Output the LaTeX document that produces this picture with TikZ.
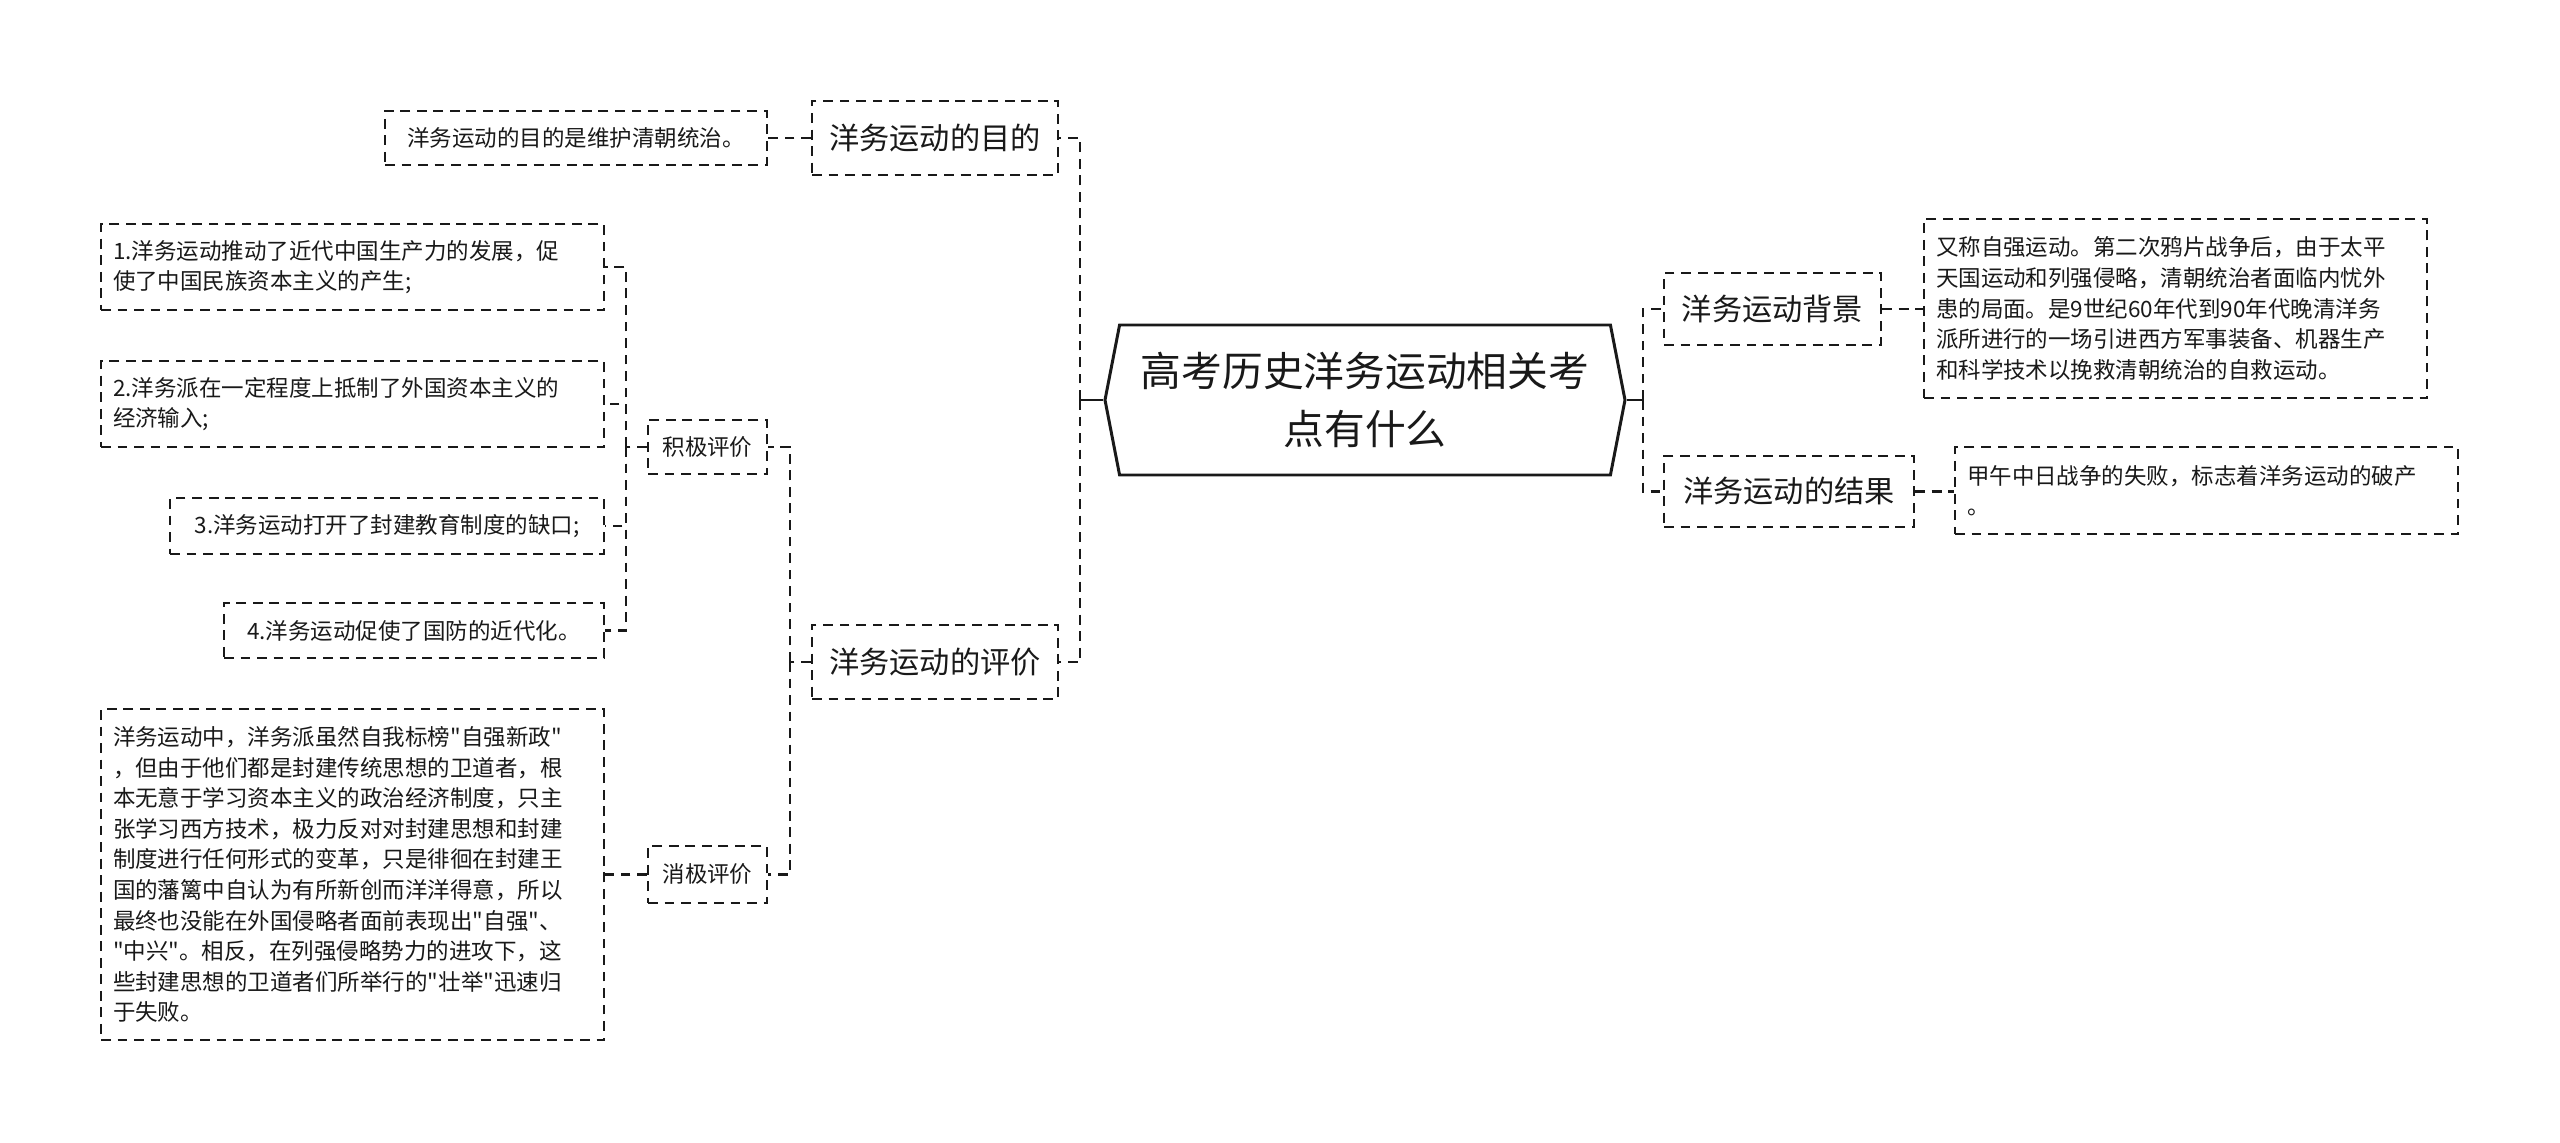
\documentclass[tikz,border=0pt]{standalone}
\usepackage{fontspec}
\newfontfamily\cjk{Noto Sans CJK SC}
\definecolor{mapline}{RGB}{25,25,25}
\definecolor{maptext}{RGB}{25,25,25}
\usetikzlibrary{shapes.symbols}

\begin{document}
\begin{tikzpicture}[
    box/.style={draw=mapline, line width=0.65pt, dash pattern=on 2.8pt off 1.9pt, text=maptext, inner sep=0pt},
    leaf/.style={box, font=\cjk\fontsize{6.4}{8.7}\selectfont},
    topic/.style={box, font=\cjk\fontsize{8.6}{11}\selectfont, minimum height=0.74cm},
    note/.style={leaf, align=left, text width=4.79cm, inner xsep=0.12cm},
    link/.style={draw=mapline, line width=0.65pt, dash pattern=on 2.8pt off 1.9pt},
    rootlink/.style={draw=mapline, line width=0.85pt}
]
    \useasboundingbox (0,0) rectangle (25.6,-11.43);

    % centre
    \node[signal, signal to=east and west, signal pointer angle=158, draw=mapline, line width=0.85pt,
          text=maptext, font=\cjk\fontsize{11.6}{16.3}\selectfont, align=center,
          minimum width=5.2cm, minimum height=1.5cm, inner sep=0pt] (root) at (13.65,-4.00)
          {高考历史洋务运动相关考\\点有什么};

    % left side
    \node[topic, minimum width=2.46cm] (purpose) at (9.35,-1.38) {洋务运动的目的};
    \node[leaf, minimum width=3.82cm, minimum height=0.54cm] (purposetxt) at (5.76,-1.38) {洋务运动的目的是维护清朝统治。};
    \node[topic, minimum width=2.46cm] (eval) at (9.35,-6.62) {洋务运动的评价};
    \node[leaf, minimum width=1.19cm, minimum height=0.54cm] (pos) at (7.075,-4.47) {积极评价};
    \node[leaf, minimum width=1.19cm, minimum height=0.57cm] (neg) at (7.075,-8.745) {消极评价};

    \node[note, minimum height=0.86cm] (pos1) at (3.525,-2.67) {1.洋务运动推动了近代中国生产力的发展，促\\使了中国民族资本主义的产生;};
    \node[note, minimum height=0.86cm] (pos2) at (3.525,-4.04) {2.洋务派在一定程度上抵制了外国资本主义的\\经济输入;};
    \node[leaf, minimum width=4.34cm, minimum height=0.56cm] (pos3) at (3.87,-5.26) {3.洋务运动打开了封建教育制度的缺口;};
    \node[leaf, minimum width=3.80cm, minimum height=0.55cm] (pos4) at (4.14,-6.305) {4.洋务运动促使了国防的近代化。};
    \node[note, minimum height=3.31cm] (negtxt) at (3.525,-8.745) {洋务运动中，洋务派虽然自我标榜"自强新政"\\，但由于他们都是封建传统思想的卫道者，根\\本无意于学习资本主义的政治经济制度，只主\\张学习西方技术，极力反对对封建思想和封建\\制度进行任何形式的变革，只是徘徊在封建王\\国的藩篱中自认为有所新创而洋洋得意，所以\\最终也没能在外国侵略者面前表现出"自强"、\\"中兴"。相反，在列强侵略势力的进攻下，这\\些封建思想的卫道者们所举行的"壮举"迅速归\\于失败。};

    % right side
    \node[topic, minimum width=2.17cm, minimum height=0.72cm] (backgr) at (17.725,-3.09) {洋务运动背景};
    \node[topic, minimum width=2.50cm, minimum height=0.71cm] (result) at (17.89,-4.915) {洋务运动的结果};
    \node[note, minimum height=1.79cm] (backtxt) at (21.755,-3.085) {又称自强运动。第二次鸦片战争后，由于太平\\天国运动和列强侵略，清朝统治者面临内忧外\\患的局面。是9世纪60年代到90年代晚清洋务\\派所进行的一场引进西方军事装备、机器生产\\和科学技术以挽救清朝统治的自救运动。};
    \node[note, minimum height=0.87cm] (restxt) at (22.065,-4.905) {甲午中日战争的失败，标志着洋务运动的破产\\。};

    % connectors
    \coordinate (lbus) at (10.80,-4.00);
    \coordinate (rbus) at (16.43,-4.00);
    \coordinate (ebus) at (7.90,-6.62);
    \coordinate (pbus) at (6.26,-4.47);
    \draw[rootlink] (root.west) -- (lbus);
    \draw[rootlink] (root.east) -- (rbus);
    \draw[link] (lbus) |- (purpose.east);
    \draw[link] (lbus) |- (eval.east);
    \draw[link] (rbus) |- (backgr.west);
    \draw[link] (rbus) |- (result.west);
    \draw[link] (purpose.west) -- (purposetxt.east);
    \draw[link] (backgr.east) -- (backtxt.west |- backgr.east);
    \draw[link] (result.east) -- (restxt.west |- result.east);
    \draw[link] (eval.west) -- (ebus);
    \draw[link] (ebus) |- (pos.east);
    \draw[link] (ebus) |- (neg.east);
    \draw[link] (neg.west) -- (negtxt.east);
    \draw[link] (pos.west) -- (pbus);
    \foreach \item in {pos1,pos2,pos3,pos4}
        \draw[link] (pbus) |- (\item.east);
\end{tikzpicture}
\end{document}
